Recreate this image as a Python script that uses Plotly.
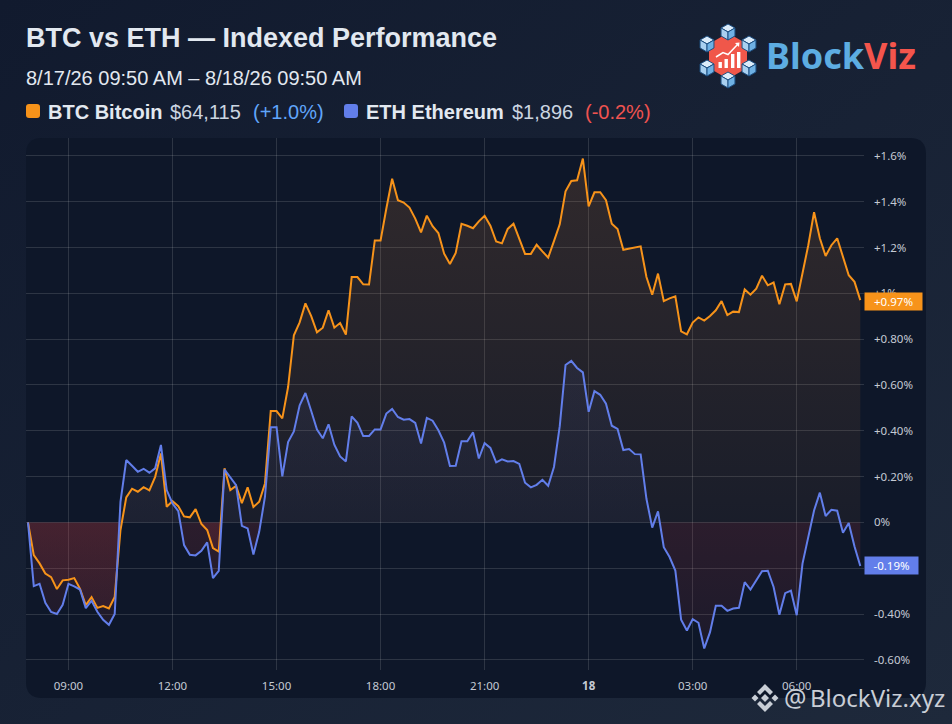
import base64
import numpy as np
import pandas as pd
import plotly.graph_objects as go

btc = [0, -.143, -.179, -.223, -.239, -.291, -.253, -.250, -.243, -.290, -.361, -.326, -.373, -.365, -.376, -.325,
       -.033, .109, .147, .134, .154, .140, .199, .301, .068, .093, .071, .026, .022, .058, -.007, -.033, -.112, -.127,
       .236, .141, .159, .084, .153, .067, .090, .170, .486, .486, .454, .591, .817, .873, .956, .90, .83, .85, .926,
       .85, .87, .82, 1.071, 1.071, 1.039, 1.038, 1.231, 1.231, 1.37, 1.50, 1.406, 1.396, 1.374, 1.326, 1.266, 1.339,
       1.293, 1.263, 1.173, 1.128, 1.176, 1.303, 1.295, 1.284, 1.314, 1.338, 1.295, 1.226, 1.218, 1.281, 1.304, 1.239,
       1.172, 1.172, 1.212, 1.183, 1.156, 1.228, 1.301, 1.445, 1.49, 1.493, 1.588, 1.379, 1.441, 1.441, 1.406, 1.304,
       1.281, 1.19, 1.195, 1.2, 1.205, 1.071, .994, 1.086, .966, .978, .987, .834, .821, .872, .895, .881, .901, .926,
       .966, .905, .92, .918, 1.017, .994, 1.02, 1.077, 1.035, 1.047, .952, 1.039, 1.041, .965, 1.086, 1.21, 1.354,
       1.24, 1.163, 1.21, 1.24, 1.157, 1.079, 1.05, .97]
eth = [0, -.278, -.268, -.351, -.391, -.400, -.360, -.268, -.279, -.293, -.374, -.342, -.390, -.425, -.447, -.400,
       .090, .272, .247, .221, .234, .217, .236, .338, .141, .083, .049, -.099, -.141, -.144, -.124, -.087, -.243,
       -.212, .231, .198, .163, -.015, -.026, -.140, -.041, .112, .415, .415, .201, .351, .397, .511, .565, .486, .405,
       .367, .428, .339, .288, .266, .463, .435, .377, .377, .406, .406, .475, .495, .46, .448, .451, .434, .344, .456,
       .444, .402, .348, .246, .247, .354, .354, .393, .279, .346, .325, .262, .275, .266, .268, .255, .173, .153, .164,
       .186, .16, .242, .42, .687, .705, .674, .655, .483, .573, .557, .518, .422, .408, .316, .32, .298, .297, .103,
       -.023, .048, -.108, -.151, -.21, -.425, -.472, -.422, -.438, -.55, -.479, -.364, -.364, -.386, -.376, -.373,
       -.261, -.293, -.253, -.213, -.211, -.282, -.403, -.309, -.298, -.405, -.18, -.064, .052, .13, .028, .055, .051,
       -.045, -.003, -.105, -.19]
times = pd.date_range("2026-08-17 07:50", periods=len(btc), freq="10min")

y_ticks = [1.6, 1.4, 1.2, 1.0, .8, .6, .4, .2, 0, -.2, -.4, -.6]
y_labels = ["+1.6%", "+1.4%", "+1.2%", "+1%", "+0.80%", "+0.60%", "+0.40%", "+0.20%", "0%", "-0.20%", "-0.40%", "-0.60%"]
x_ticks = ["2026-08-17 09:00", "2026-08-17 12:00", "2026-08-17 15:00", "2026-08-17 18:00", "2026-08-17 21:00",
           "2026-08-18 00:00", "2026-08-18 03:00", "2026-08-18 06:00"]
x_labels = ["09:00", "12:00", "15:00", "18:00", "21:00", "<b>18</b>", "03:00", "06:00"]

ORANGE = "#f7931a"
BLUE = "#627eea"
SANS = "Liberation Sans"
TICK_FONT = "Noto Sans"

# plot area in page pixels
L, R, T, B = 26, 864, 138, 670
W, H = 952, 724
PX_PER_HOUR = 34.67
PX_PER_PCT = 229.1
ZERO_Y = 522.4


def px(x):
    return (x - L) / (R - L)


def py(y):
    return (B - y) / (B - T)


def poly(points, close=True):
    return "M" + "L".join(f"{px(a):.5f},{py(b):.5f}" for a, b in points) + ("Z" if close else "")


def shape(points, fill=None, line=None, width=0, close=True, layer="above"):
    return dict(type="path", xref="paper", yref="paper", path=poly(points, close), fillcolor=fill,
                line=dict(color=line or "rgba(0,0,0,0)", width=width), layer=layer)


def rounded(x0, y0, x1, y1, r, fill, layer="below"):
    p = [f"M{px(x0 + r):.5f},{py(y0):.5f}", f"L{px(x1 - r):.5f},{py(y0):.5f}", f"Q{px(x1):.5f},{py(y0):.5f} {px(x1):.5f},{py(y0 + r):.5f}",
         f"L{px(x1):.5f},{py(y1 - r):.5f}", f"Q{px(x1):.5f},{py(y1):.5f} {px(x1 - r):.5f},{py(y1):.5f}",
         f"L{px(x0 + r):.5f},{py(y1):.5f}", f"Q{px(x0):.5f},{py(y1):.5f} {px(x0):.5f},{py(y1 - r):.5f}",
         f"L{px(x0):.5f},{py(y0 + r):.5f}", f"Q{px(x0):.5f},{py(y0):.5f} {px(x0 + r):.5f},{py(y0):.5f}Z"]
    return dict(type="path", xref="paper", yref="paper", path="".join(p), fillcolor=fill, line=dict(width=0), layer=layer)


def note(x, y, text, size, color, family=SANS, bold=False):
    # annotations sit 2px inside their anchor
    return dict(x=px(x - 2), y=py(y), xref="paper", yref="paper", xanchor="left", yanchor="middle", showarrow=False,
                text=f"<b>{text}</b>" if bold else text, font=dict(family=family, size=size, color=color))


def split_at_zero(y, want_positive):
    # add the zero crossings so the fills meet the baseline cleanly
    xs, ys = [], []
    for i, v in enumerate(y):
        if i and y[i - 1] * v < 0:
            frac = abs(y[i - 1]) / (abs(y[i - 1]) + abs(v))
            xs.append(times[i - 1] + (times[i] - times[i - 1]) * frac)
            ys.append(0)
        xs.append(times[i])
        ys.append(max(v, 0) if want_positive else min(v, 0))
    return xs, ys


fig = go.Figure()

top_fills = {"btc": (btc, "rgba(247,147,60,0.05)", "rgba(247,147,60,0.155)"),
             "eth": (eth, "rgba(98,126,234,0.04)", "rgba(98,126,234,0.13)")}
for name, (vals, low, high) in top_fills.items():
    xs, ys = split_at_zero(vals, True)
    fig.add_trace(go.Scatter(x=xs, y=ys, mode="none", fill="tozeroy", hoverinfo="skip", showlegend=False,
                             fillgradient=dict(type="vertical", start=0, stop=1.68,
                                               colorscale=[[0, low], [1, high]])))
    xs, ys = split_at_zero(vals, False)
    fig.add_trace(go.Scatter(x=xs, y=ys, mode="none", fill="tozeroy", hoverinfo="skip", showlegend=False,
                             fillgradient=dict(type="vertical", start=-.65, stop=0,
                                               colorscale=[[0, "rgba(239,68,68,0.05)"], [1, "rgba(239,68,68,0.13)"]])))

fig.add_trace(go.Scatter(x=times, y=btc, mode="lines", line=dict(color=ORANGE, width=2), name="BTC", showlegend=False))
fig.add_trace(go.Scatter(x=times, y=eth, mode="lines", line=dict(color=BLUE, width=2), name="ETH", showlegend=False))

# page background, light gradient
svg = ('<svg xmlns="http://www.w3.org/2000/svg" width="952" height="724"><defs><linearGradient id="g" x1="0" y1="0" x2="1" y2="1">'
       '<stop offset="0" stop-color="#111a2e"/><stop offset="1" stop-color="#1e293b"/></linearGradient></defs>'
       '<rect width="952" height="724" fill="url(#g)"/></svg>')
bg = "data:image/svg+xml;base64," + base64.b64encode(svg.encode()).decode()

shapes = [rounded(26, 138, 926, 698, 16, "#0e1729")]
shapes.append(rounded(26, 104, 40, 118, 3, ORANGE, "above"))
shapes.append(rounded(344, 104, 358, 118, 3, BLUE, "above"))

# BlockViz logo
cx, cy = 728, 56
shapes.append(shape([(cx, cy - 23), (cx + 19, cy - 12), (cx + 19, cy + 12), (cx, cy + 23), (cx - 19, cy + 12), (cx - 19, cy - 12)],
                    fill="#f0574a"))
for dx, dy in [(0, -24), (-21, -12), (21, -12), (-21, 12), (21, 12), (0, 24)]:
    a, b, r = cx + dx, cy + dy, 8
    w = r * .87
    shapes.append(shape([(a, b - r), (a + w, b - r / 2), (a, b), (a - w, b - r / 2)], fill="#dcecfa", line="#1d4f82", width=1))
    shapes.append(shape([(a - w, b - r / 2), (a, b), (a, b + r), (a - w, b + r / 2)], fill="#a9d0f0", line="#1d4f82", width=1))
    shapes.append(shape([(a + w, b - r / 2), (a, b), (a, b + r), (a + w, b + r / 2)], fill="#6fb1e4", line="#1d4f82", width=1))
for bx, top in [(718.5, 62), (724.5, 59), (731, 54), (737, 52)]:
    shapes.append(shape([(bx, 68), (bx + 3.4, 68), (bx + 3.4, top), (bx, top)], fill="#ffffff"))
shapes.append(shape([(716, 57), (723, 52.5), (728, 54.5), (738, 44)], line="#ffffff", width=1.5, close=False))
shapes.append(shape([(735, 43), (739.5, 42.5), (739, 47)], fill="#ffffff"))

# watermark diamond
wx, wy = 765, 698
mark = "#c9ced6"
shapes.append(shape([(wx, wy - 4), (wx + 4, wy), (wx, wy + 4), (wx - 4, wy)], fill=mark))
shapes.append(shape([(wx - 13.5, wy), (wx - 10, wy - 3.5), (wx - 6.5, wy), (wx - 10, wy + 3.5)], fill=mark))
shapes.append(shape([(wx + 13.5, wy), (wx + 10, wy - 3.5), (wx + 6.5, wy), (wx + 10, wy + 3.5)], fill=mark))
shapes.append(shape([(wx, wy - 14), (wx + 8, wy - 6), (wx + 5, wy - 3), (wx, wy - 8), (wx - 5, wy - 3), (wx - 8, wy - 6)], fill=mark))
shapes.append(shape([(wx, wy + 14), (wx + 8, wy + 6), (wx + 5, wy + 3), (wx, wy + 8), (wx - 5, wy + 3), (wx - 8, wy + 6)], fill=mark))

notes = [
    note(26, 38, "BTC vs ETH — Indexed Performance", 27, "#e2e8f0", bold=True),
    note(26, 78, "8/17/26 09:50 AM – 8/18/26 09:50 AM", 20, "#e2e8f0"),
    note(48, 112, "BTC Bitcoin", 20, "#e2e8f0", bold=True),
    note(170, 112, "$64,115", 20, "#cbd5e1"),
    note(253, 112, "(+1.0%)", 20, "#60a5fa"),
    note(366, 112, "ETH Ethereum", 20, "#e2e8f0", bold=True),
    note(512, 112, "$1,896", 20, "#cbd5e1"),
    note(585, 112, "(-0.2%)", 20, "#ef5350"),
    note(766, 55.5, "<span style='color:#5dade2'>Block</span><span style='color:#f4554c'>Viz</span>", 36, "#5dade2",
         family="Noto Sans", bold=True),
    note(784, 697, "@", 25, mark, family="Noto Sans"),
    note(810, 697, "BlockViz.xyz", 24, mark, family="Noto Sans"),
]
for val, col, wide, text, ymid in [(btc[-1], ORANGE, 57, "+0.97%", 301.5), (eth[-1], BLUE, 53, "-0.19%", 565.5)]:
    notes.append(dict(x=px(863.5), y=py(ymid), xref="paper", yref="paper", xanchor="left", yanchor="middle", showarrow=False,
                      text=text, width=wide, height=17, align="center", bgcolor=col, borderpad=0,
                      font=dict(family=TICK_FONT, size=11.5, color="#ffffff")))

start = times[0] - pd.Timedelta(hours=(28 - L) / PX_PER_HOUR)
stop = times[-1] + pd.Timedelta(hours=(R - 860.3) / PX_PER_HOUR)
grid = "rgba(255,255,255,0.13)"

fig.update_layout(
    width=W, height=H, margin=dict(l=L, r=W - R, t=T, b=H - B, autoexpand=False),
    paper_bgcolor="#161f33", plot_bgcolor="rgba(0,0,0,0)", showlegend=False,
    shapes=shapes, annotations=notes,
    images=[dict(source=bg, xref="paper", yref="paper", x=px(0), y=py(0), sizex=W / (R - L), sizey=H / (B - T),
                 xanchor="left", yanchor="top", sizing="stretch", layer="below")],
    xaxis=dict(type="date", range=[start, stop], tickmode="array", tickvals=x_ticks, ticktext=x_labels,
               showgrid=True, gridcolor=grid, gridwidth=1, zeroline=False, showline=False, ticks="", ticklabelstandoff=7,
               tickfont=dict(family=TICK_FONT, size=11.5, color="#c4cad4")),
    yaxis=dict(range=[(ZERO_Y - B) / PX_PER_PCT, (ZERO_Y - T) / PX_PER_PCT], side="right", tickmode="array", tickvals=y_ticks,
               ticktext=y_labels, showgrid=True, gridcolor=grid, gridwidth=1, zeroline=False, showline=False, ticks="",
               ticklabelstandoff=9, tickfont=dict(family=TICK_FONT, size=11.5, color="#c4cad4")),
)

fig.write_html("out.html", config={"displayModeBar": False}, post_script="document.body.style.margin='0';")
